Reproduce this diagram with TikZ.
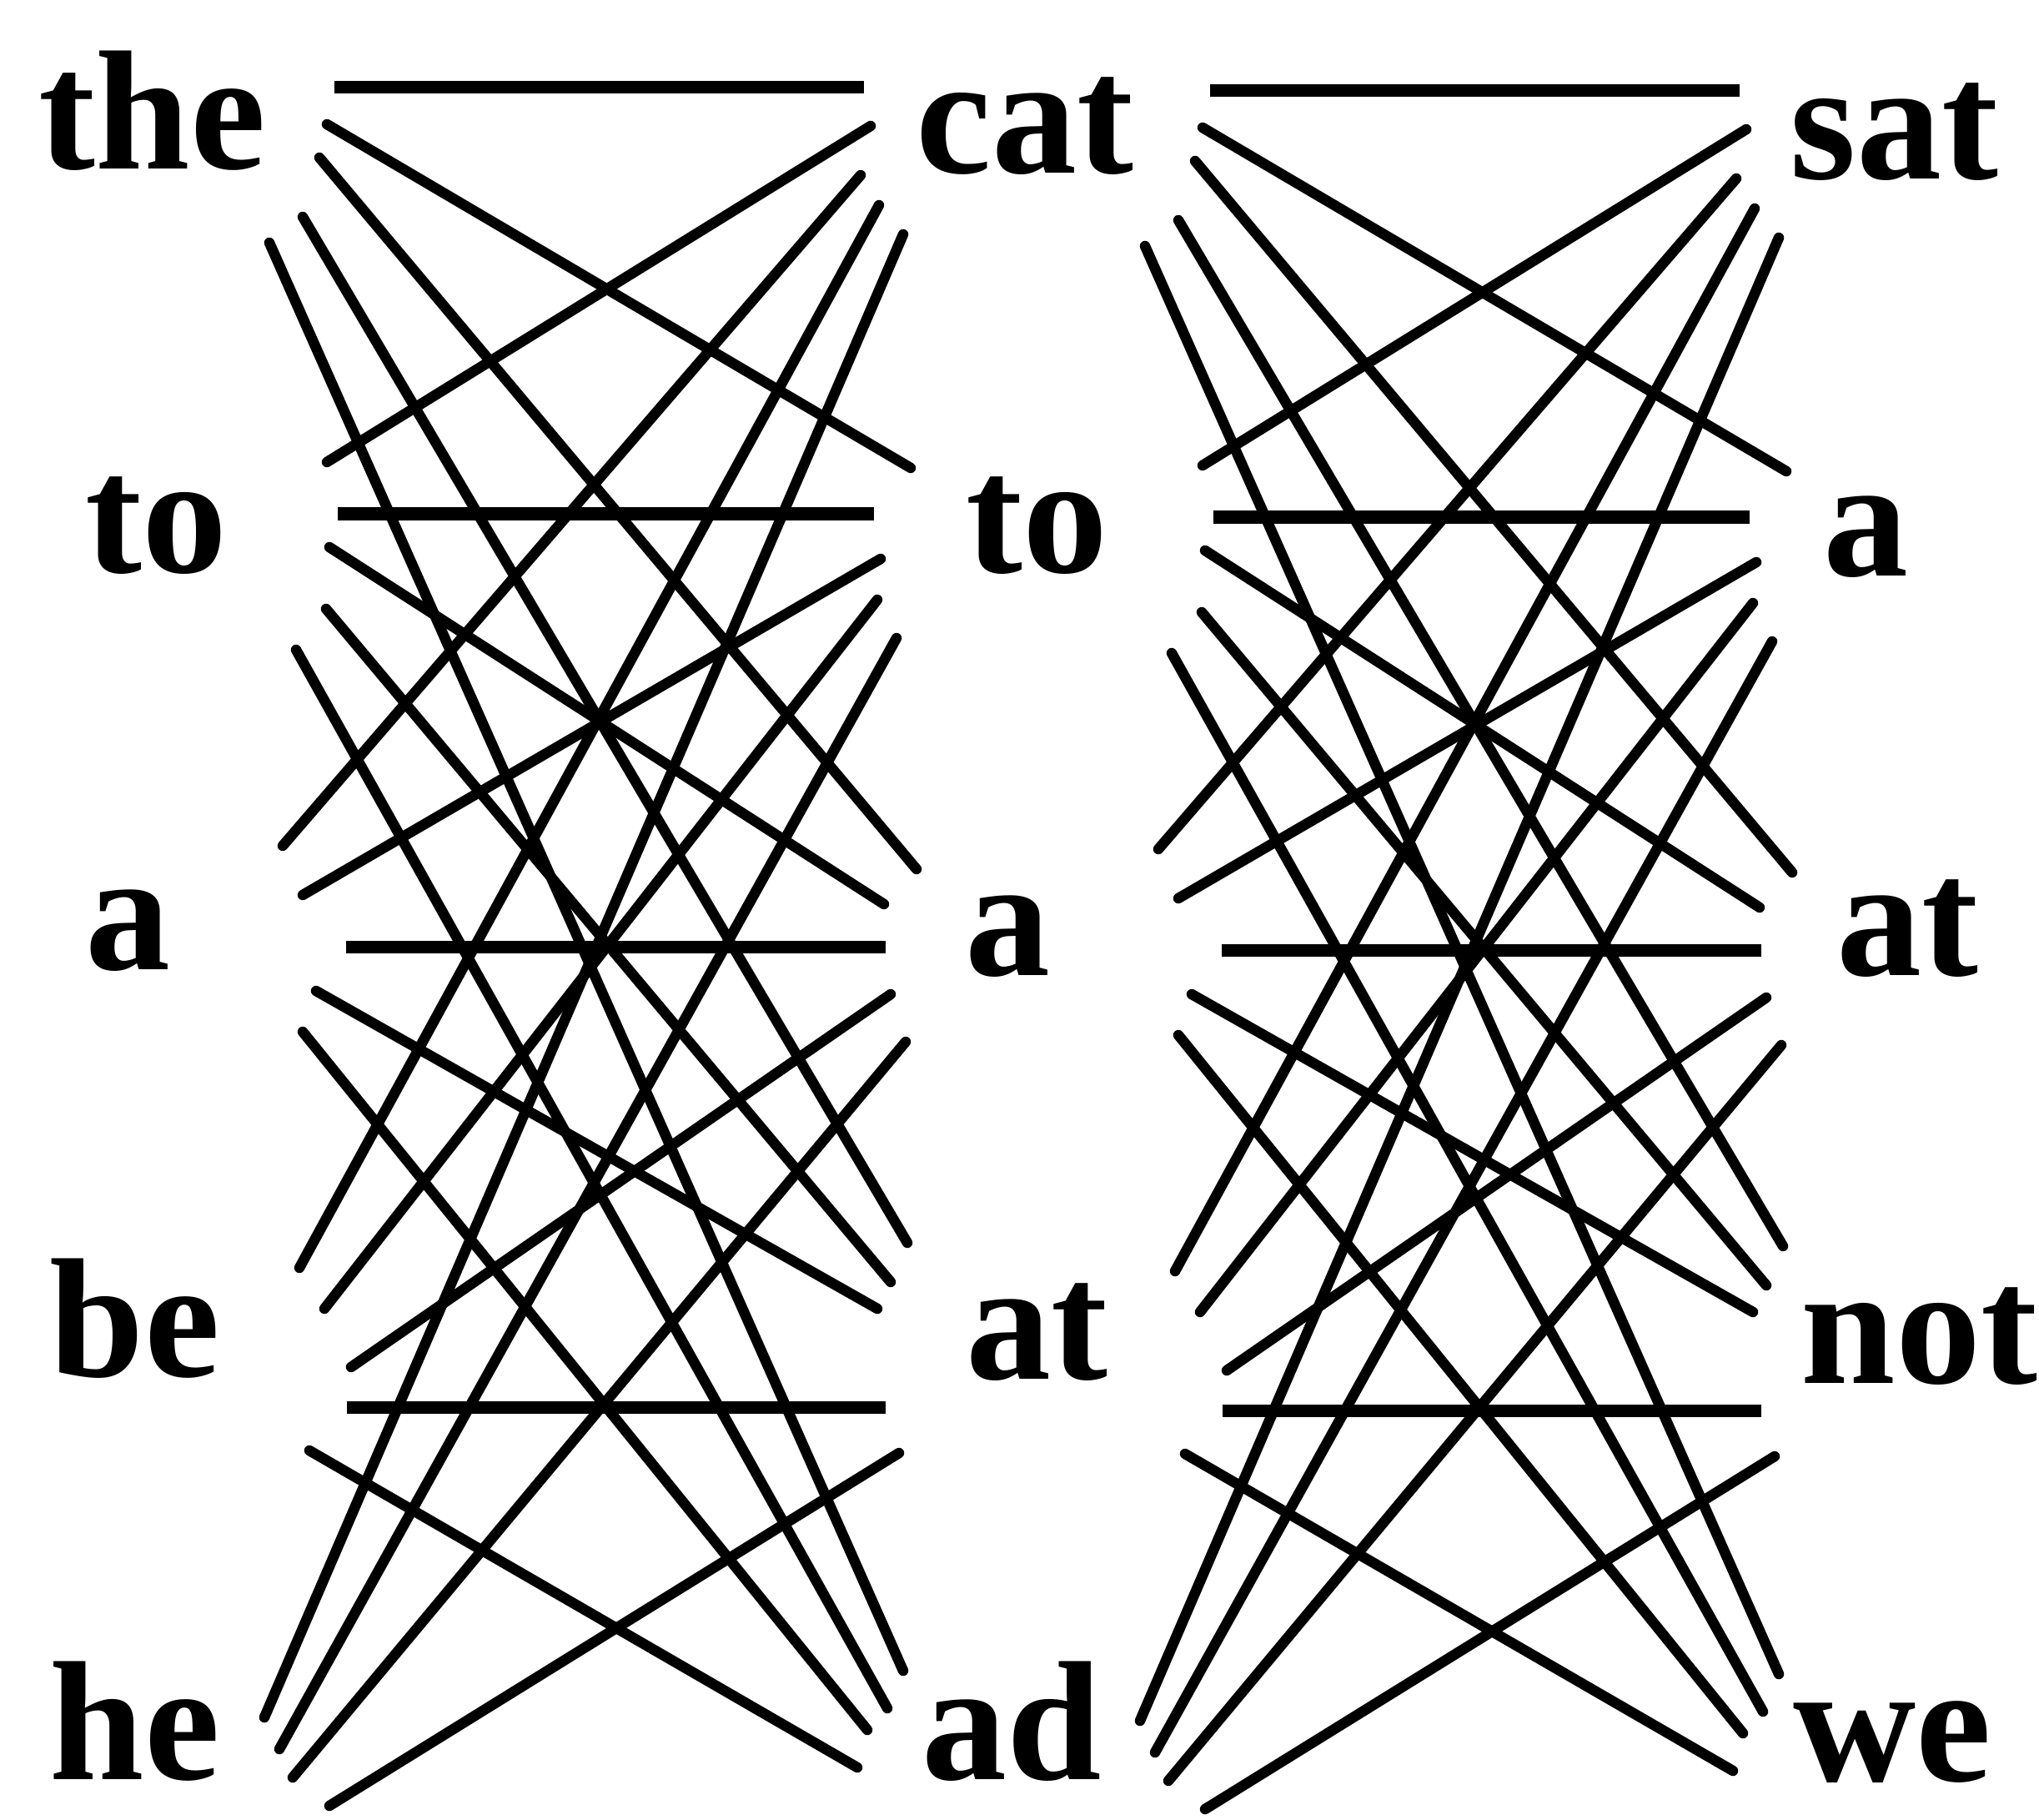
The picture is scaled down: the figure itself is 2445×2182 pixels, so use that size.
\documentclass[tikz,border=0pt]{standalone}
\usepackage{fontspec}
\setmainfont{Liberation Serif}
\begin{document}
\begin{tikzpicture}[x=0.01cm,y=-0.01cm,
  word/.style={font=\fontsize{58}{60}\selectfont\bfseries, inner sep=0pt, anchor=base west},
  dline/.style={line width=0.125cm, line cap=round},
  hline/.style={line width=0.15cm, line cap=butt}]
\useasboundingbox[fill=white] (0,0) rectangle (2445,2182);
% column 1
\node[word] (c1r0) at (46,203)  {the};
\node[word] (c1r1) at (102,686) {to};
\node[word] (c1r2) at (102,1162) {a};
\node[word] (c1r3) at (59,1650) {be};
\node[word] (c1r4) at (59,2133) {he};
% column 2
\node[word] (c2r0) at (1098,208) {cat};
\node[word] (c2r1) at (1158,686) {to};
\node[word] (c2r2) at (1157,1169) {a};
\node[word] (c2r3) at (1158,1653) {at};
\node[word] (c2r4) at (1105,2133) {ad};
% column 3
\node[word] (c3r0) at (2146,215) {sat};
\node[word] (c3r1) at (2186,690) {a};
\node[word] (c3r2) at (2202,1169) {at};
\node[word] (c3r3) at (2159,1658) {not};
\node[word] (c3r4) at (2150,2135) {we};
% connectors between adjacent columns
\foreach \b/\dx/\dy in {1/0/0, 2/1050/4} {
  \foreach \i/\j/\xa/\ya/\xb/\yb/\st in {
    0/0/401/105/1036/105/hline,
    0/1/392/149/1092/561/dline,
    0/2/383/189/1099/1042/dline,
    0/3/363/260/1088/1490/dline,
    0/4/323/291/1083/2003/dline,
    1/0/392/554/1044/151/dline,
    1/1/405/616/1048/616/hline,
    1/2/395/656/1060/1084/dline,
    1/3/391/730/1068/1537/dline,
    1/4/355/779/1064/2048/dline,
    2/0/339/1014/1032/210/dline,
    2/1/363/1073/1056/670/dline,
    2/2/415/1135/1062/1135/hline,
    2/3/379/1188/1052/1569/dline,
    2/4/363/1237/1040/2074/dline,
    3/0/359/1520/1054/246/dline,
    3/1/389/1569/1052/719/dline,
    3/2/421/1639/1068/1192/dline,
    3/3/416/1687/1062/1687/hline,
    3/4/371/1739/1028/2119/dline,
    4/0/317/2059/1083/281/dline,
    4/1/335/2097/1075/765/dline,
    4/2/351/2131/1086/1249/dline,
    4/3/395/2165/1078/1742/dline} {
    \coordinate (L\b-\i\j) at ({\xa+\dx},{\ya+\dy});
    \coordinate (R\b-\i\j) at ({\xb+\dx},{\yb+\dy});
    \draw[\st] (L\b-\i\j) -- (R\b-\i\j);
  }
}
\end{tikzpicture}
\end{document}
